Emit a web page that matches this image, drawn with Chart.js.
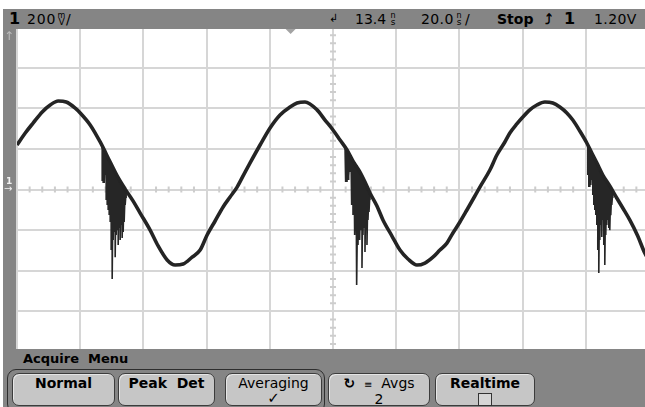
<!DOCTYPE html>
<html>
<head>
<meta charset="utf-8">
<script src="https://cdn.jsdelivr.net/npm/chart.js@4.4.1/dist/chart.umd.min.js"></script>
<style>
  body { margin:0; width:645px; height:407px; overflow:hidden; background:#fff; position:relative; font-family:"DejaVu Sans", sans-serif; color:#000; }
  #wrap { position:absolute; left:0; top:0; width:660px; height:407px; }
  .bar { position:absolute; background:#858585; }
  .t { position:absolute; font-size:14px; line-height:16px; white-space:nowrap; }
  .b { font-weight:bold; }
  .st { position:absolute; font-size:8px; line-height:7px; text-align:center; }
  .btn { position:absolute; top:373px; height:33px; background:#c6c6c6; border:1px solid #3c3c3c; border-radius:7px; box-sizing:border-box; box-shadow:inset 1px 1px 0 #e6e6e6; text-align:center; font-size:14px; line-height:15px; }
</style>
</head>
<body>
<div id="wrap"><canvas id="chart" width="660" height="407"></canvas></div>

<!-- top status line -->
<div class="bar" style="left:3px;top:9px;width:642px;height:20px"></div>
<div class="t b" style="left:9px;top:10px;font-size:16px;line-height:18px">1</div>
<div class="t" style="left:27px;top:11px;letter-spacing:0.8px">200</div>
<div class="st" style="left:57px;top:12px;width:9px">m<br><span style="font-size:9px">V</span></div>
<div class="t" style="left:66px;top:11px">/</div>
<div class="t" style="left:329px;top:11px;font-size:11px">&#8626;</div>
<div class="t" style="left:355px;top:11px">13.4</div>
<div class="st" style="left:387px;top:12px;width:12px">n<br><span style="font-size:9px">s</span></div>
<div class="t" style="left:421px;top:11px;letter-spacing:0.4px">20.0</div>
<div class="st" style="left:453px;top:12px;width:12px">n<br><span style="font-size:9px">s</span></div>
<div class="t" style="left:465px;top:11px">/</div>
<div class="t b" style="left:497px;top:11px">Stop</div>
<div class="t b" style="left:545px;top:11px">&#10548;</div>
<div class="t b" style="left:564px;top:10px;font-size:16px;line-height:18px">1</div>
<div class="t" style="left:594px;top:11px;letter-spacing:0.4px">1.20V</div>

<!-- left marker strip -->
<div class="bar" style="left:3px;top:29px;width:13px;height:320px"></div>
<div class="t" style="left:4px;top:28px;font-size:12px;color:#bdbdbd">&#8593;</div>
<div class="t b" style="left:6px;top:176px;font-size:9px;line-height:10px;color:#f2f2f2">1</div>
<div class="t" style="left:4px;top:184px;font-size:10px;line-height:10px;color:#f2f2f2">&#8594;</div>

<!-- softkey menu -->
<div class="bar" style="left:3px;top:349px;width:642px;height:58px"></div>
<div class="t b" style="left:23px;top:351px;font-size:13px">Acquire&nbsp; Menu</div>
<div style="position:absolute;left:7px;top:369px;width:318px;height:44px;border:1.5px solid #2e2e2e;border-radius:9px;box-sizing:border-box"></div>
<div class="btn b" style="left:12px;width:103px;padding-top:2px">Normal</div>
<div class="btn b" style="left:118px;width:97px;padding-top:2px">Peak&nbsp; Det</div>
<div class="btn" style="left:225px;width:97px;padding-top:2px">Averaging<br><span class="b" style="font-size:15px">&#10003;</span></div>
<div class="btn" style="left:328px;width:102px;padding-top:2px"><span class="b">&#8635;</span>&nbsp; <span style="font-size:10px">&#8801;</span>&nbsp; Avgs<br>2</div>
<div class="btn b" style="left:435px;width:100px;padding-top:2px">Realtime<br><span style="display:inline-block;width:12px;height:11px;border:1px solid #333;background:#d6d6d6;margin-top:2px"></span></div>

<script>
// channel 1 trace (time in ns across the screen, volts in mV)
var timeNs = [0, 2.61, 5.14, 7.98, 10.51, 13.04, 15.57, 18.42, 20.0, 23.16, 26.32, 29.49, 31.70, 34.23, 36.76, 38.97, 42.13, 44.66, 47.51, 50.04,
  52.57, 55.42, 57.95, 60.16, 62.69, 65.22, 67.43, 69.65, 72.18, 73.76, 76.92, 80.08, 83.24, 86.41, 88.62, 91.15, 94.94, 97.47, 100.0, 102.22,
  104.43, 106.33, 108.54, 110.12, 111.70, 113.91, 115.81, 118.66, 121.19, 123.72, 126.56, 129.09, 131.62, 133.84, 136.05, 137.95, 140.16, 142.37, 144.90, 146.48,
  149.65, 151.86, 154.39, 155.97, 158.18, 160.08, 162.29, 164.51, 167.04, 169.57, 171.78, 174.00, 175.89, 178.11, 180.32, 181.90, 183.48, 185.38, 187.59, 189.80,
  191.70, 193.91, 196.44, 198.66, 200];
var traceMv = [219, 278, 328, 382, 416, 436, 431, 401, 377, 318, 234, 135, 67, 2, -57, -116, -200, -278, -347, -372,
  -367, -333, -298, -224, -155, -86, -37, 12, 86, 131, 219, 303, 367, 406, 426, 431, 392, 342, 293, 244,
  195, 140, 86, 37, -17, -81, -150, -229, -298, -342, -372, -362, -333, -298, -264, -214, -160, -101, -32, 12,
  96, 170, 234, 278, 323, 357, 392, 416, 431, 426, 406, 377, 342, 288, 229, 180, 131, 71, 17, -42,
  -91, -150, -229, -313, -350];

// glitch bursts on the falling edge: trace level and how far each spike drops
var glitchNs = [26.96, 27.27, 27.59, 27.91, 28.22, 28.54, 28.85, 29.17, 29.49, 29.80, 30.12, 30.44, 30.75, 31.07, 31.38, 31.70, 32.02, 32.33, 32.65, 32.96, 33.28, 33.60, 33.91, 34.23, 34.54,
  103.80, 104.11, 104.43, 104.75, 105.06, 105.38, 105.70, 106.01, 106.33, 106.65, 106.96, 107.28, 107.59, 107.91, 108.23, 108.54, 108.86, 109.17, 109.49, 109.81, 110.12, 110.44, 110.75, 111.07, 111.39, 111.70,
  180.63, 180.95, 181.27, 181.58, 181.90, 182.21, 182.53, 182.85, 183.16, 183.48, 183.79, 184.11, 184.43, 184.74, 185.06, 185.37, 185.69, 186.01, 186.32, 186.64, 186.96, 187.27, 187.59, 187.90, 188.22, 188.54];
var glitchTopMv = [209, 200, 190, 180, 170, 160, 155, 145, 135, 126, 116, 106, 96, 86, 76, 67, 57, 47, 42, 32, 22, 12, 7, -2, -12,
  209, 200, 195, 185, 180, 170, 160, 155, 145, 135, 131, 121, 111, 101, 91, 86, 76, 67, 57, 47, 37, 27, 17, 7, -2, -17,
  219, 209, 200, 190, 180, 170, 160, 150, 140, 131, 121, 116, 106, 96, 86, 76, 71, 62, 52, 47, 37, 27, 17, 7, -2, -12];
var glitchLowMv = [42, 32, 32, 71, -52, -76, -101, -126, -160, -298, -441, -249, -209, -333, -224, -200, -273, -190, -249, -175, -239, -209, -160, -76, -42,
  47, 37, 37, 47, 67, 86, -2, -76, -126, -175, -224, -347, -470, -273, -209, -249, -200, -387, -224, -190, -308, -200, -273, -150, -111, -52,
  71, 12, 12, 22, 47, -27, -76, -101, -126, -175, -298, -411, -249, -175, -234, -150, -273, -372, -224, -175, -150, -190, -200, -126, -76, -42];

var timeTicksNs = [0, 20, 40, 60, 80, 100, 120, 140, 160, 180, 200];
var voltTicksMv = [-800, -600, -400, -200, 0, 200, 400, 600, 800];
var delayNs = 13.4;

var tracePts = [];
for (var i = 0; i < timeNs.length; i++) {
  tracePts.push({x: timeNs[i], y: traceMv[i]});
}

// zigzag between trace and spike bottom so the burst fills in
var glitchPts = [];
for (var j = 0; j < glitchNs.length; j++) {
  if (j > 0 && glitchNs[j] - glitchNs[j - 1] > 5) {
    glitchPts.push({x: glitchNs[j] - 0.1, y: null});
  }
  glitchPts.push({x: glitchNs[j], y: glitchTopMv[j]});
  glitchPts.push({x: glitchNs[j], y: glitchLowMv[j]});
}

// minor ticks on the centre cross + delay marker
var scopeMarks = {
  id: 'scopeMarks',
  beforeDatasetsDraw: function(chart) {
    var c = chart.ctx;
    var xs = chart.scales.x;
    var ys = chart.scales.y;
    var y0 = ys.getPixelForValue(0);
    var x0 = xs.getPixelForValue(100);
    c.save();
    c.strokeStyle = '#cdcdcd';
    c.lineWidth = 2;
    c.beginPath();
    for (var t = 4; t < 200; t += 4) {
      if (t % 20 == 0) continue;
      var px = xs.getPixelForValue(t);
      c.moveTo(px, y0 - 3);
      c.lineTo(px, y0 + 3);
    }
    for (var v = -760; v < 800; v += 40) {
      if (v % 200 == 0) continue;
      var py = ys.getPixelForValue(v);
      c.moveTo(x0 - 3, py);
      c.lineTo(x0 + 3, py);
    }
    c.stroke();
    var dx = xs.getPixelForValue(100 - delayNs);
    var top = ys.getPixelForValue(800) + 2;
    c.fillStyle = '#a3a3a3';
    c.beginPath();
    c.moveTo(dx - 5, top);
    c.lineTo(dx + 5, top);
    c.lineTo(dx, top + 5);
    c.closePath();
    c.fill();
    c.restore();
  }
};

var ctx = document.getElementById('chart').getContext('2d');

var chart = new Chart(ctx, {
  type: 'line',
  data: {
    datasets: [
      {
        label: 'trace',
        data: tracePts,
        borderColor: '#242424',
        borderWidth: 3.6,
        pointRadius: 0,
        fill: false,
        cubicInterpolationMode: 'monotone'
      },
      {
        label: 'glitch',
        data: glitchPts,
        borderColor: '#262626',
        borderWidth: 1.6,
        pointRadius: 0,
        fill: false,
        spanGaps: false,
        tension: 0
      }
    ]
  },
  options: {
    animation: false,
    responsive: false,
    devicePixelRatio: 1,
    layout: { padding: { left: 17, right: 11, top: 27, bottom: 55 } },
    plugins: { legend: { display: false }, tooltip: { enabled: false } },
    scales: {
      x: {
        type: 'linear',
        min: 0,
        max: 200,
        afterBuildTicks: function(axis) { axis.ticks = timeTicksNs.map(function(v) { return {value: v}; }); },
        ticks: { display: false },
        grid: { color: '#d6d6d6', lineWidth: 2, drawTicks: false },
        border: { display: false }
      },
      y: {
        type: 'linear',
        min: -800,
        max: 800,
        afterBuildTicks: function(axis) { axis.ticks = voltTicksMv.map(function(v) { return {value: v}; }); },
        ticks: { display: false },
        grid: { color: '#d6d6d6', lineWidth: 2, drawTicks: false },
        border: { display: false }
      }
    }
  },
  plugins: [scopeMarks]
});
</script>
</body>
</html>
